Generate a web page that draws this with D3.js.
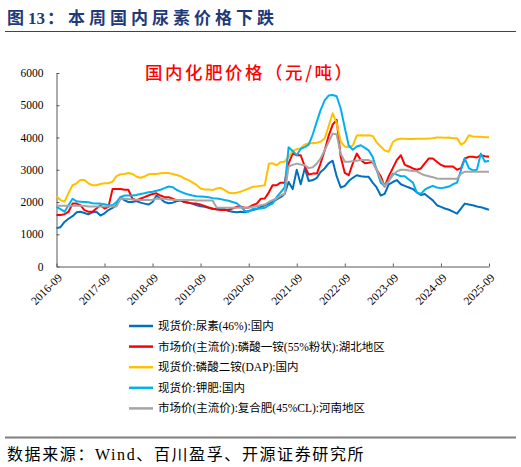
<!DOCTYPE html>
<html>
<head>
<meta charset="utf-8">
<script src="https://cdn.jsdelivr.net/npm/d3@7"></script>
<style>
  body { margin: 0; background: #fff; }
  svg { display: block; }
</style>
</head>
<body>
<div id="chart"></div>
<script>
// month-by-month readings, 2016-09 .. 2025-09 (109 points)
let start_month = "2016-09";
let tick_labels = ["2016-09", "2017-09", "2018-09", "2019-09", "2020-09",
  "2021-09", "2022-09", "2023-09", "2024-09", "2025-09"];
let y_ticks = [0, 1000, 2000, 3000, 4000, 5000, 6000];

let series_names = [
  "现货价:尿素(46%):国内",
  "市场价(主流价):磷酸一铵(55%粉状):湖北地区",
  "现货价:磷酸二铵(DAP):国内",
  "现货价:钾肥:国内",
  "市场价(主流价):复合肥(45%CL):河南地区"
];
let series_colors = ["#0070C0", "#FF0000", "#FFC000", "#00B0F0", "#A5A5A5"];

let urea = [1190, 1220, 1380, 1480,
  1560, 1680, 1700, 1660, 1620, 1680, 1700, 1580, 1650, 1750, 1820, 1900,
  2150, 2050, 2000, 2000, 2030, 1980, 1950, 1920, 2000, 2200, 2100, 2000,
  1960, 1980, 2020, 2060, 2000, 1980, 1950, 1900, 1870, 1850, 1820, 1780,
  1780, 1800, 1780, 1720, 1700, 1680, 1700, 1680, 1720, 1750, 1780, 1850,
  1900, 1950, 2000, 2080, 2150, 2250, 2620, 2400, 3000, 2550, 3050, 2650,
  2680, 2750, 2930, 3040, 3200, 3280, 2800, 2450, 2500, 2650, 2750, 2830,
  2800, 2780, 2780, 2600, 2450, 2200, 2250, 2550, 2620, 2680, 2550, 2500,
  2450, 2400, 2300, 2220, 2250, 2150, 2050, 1900, 1850, 1800, 1760, 1700,
  1640, 1800, 1950, 1920, 1900, 1860, 1840, 1800, 1760];

let map_hubei = [1600, 1600, 1620, 1700,
  1950, 1950, 1900, 1750, 1700, 1700, 1800, 1900, 1800, 1850, 2400, 2400,
  2400, 2380, 2380, 2100, 2050, 2100, 2150, 2200, 2250, 2270, 2200, 2150,
  2150, 2100, 2050, 2050, 2000, 1980, 1950, 1950, 1920, 1880, 1830, 1800,
  1770, 1750, 1750, 1760, 1800, 1850, 1850, 1820, 1830, 1900, 1950, 2100,
  2110, 2300, 2520, 2520, 2600, 2600, 3200, 3500, 3450, 3450, 3100, 2850,
  2880, 2880, 3200, 3600, 4050, 4400, 4550, 3400, 2900, 2830, 3200, 3500,
  3300, 3200, 3220, 3250, 3000, 2800, 2480, 2800, 3050, 3300, 3450, 3150,
  3100, 3040, 3000, 3040, 3200, 3350, 3350, 3250, 3150, 3100, 3100, 3100,
  3000, 3050, 3350, 3400, 3400, 3380, 3450, 3420, 3400];

let dap = [2180, 2060, 2010, 2270,
  2520, 2580, 2680, 2680, 2580, 2520, 2520, 2560, 2580, 2580, 2630, 2800,
  2860, 2870, 2900, 2870, 2790, 2750, 2790, 2860, 2870, 2870, 2890, 2900,
  2900, 2870, 2840, 2800, 2730, 2680, 2610, 2530, 2420, 2390, 2390, 2370,
  2420, 2440, 2370, 2290, 2270, 2290, 2320, 2370, 2420, 2470, 2480, 2500,
  2520, 3190, 3200, 3140, 3240, 3250, 3400, 3580, 3640, 3660, 3780, 3820,
  3820, 3840, 3870, 3970, 4350, 4750, 4450, 3870, 3720, 3700, 3750, 4060,
  4070, 4060, 4070, 4050, 3850, 3720, 3600, 3560, 3860, 3940, 3960, 3960,
  3950, 3950, 3960, 3960, 3960, 3970, 3980, 4000, 4000, 3990, 4000, 3980,
  3980, 3780, 3850, 4070, 4030, 4020, 4020, 4010, 4010];

let potash = [1850, 1780, 1700, 1900,
  2100, 2020, 2010, 2000, 1990, 1960, 1950, 1950, 1930, 1900, 1900, 2000,
  2160, 2200, 2200, 2200, 2220, 2250, 2270, 2300, 2320, 2350, 2380, 2430,
  2480, 2460, 2380, 2320, 2270, 2230, 2200, 2180, 2170, 2160, 2150, 2120,
  2110, 2090, 2060, 2040, 2000, 1960, 1860, 1730, 1700, 1780, 1800, 1800,
  1820, 1900, 1950, 2150, 2300, 2450, 3700, 3580, 3450, 3650, 3700, 3780,
  4100, 4500, 4850, 5150, 5300, 5320, 5280, 4900, 4300, 3750, 3620, 3720,
  3760, 3680, 3600, 3400, 3000, 2600, 2500, 2650, 2880, 2850, 2800, 2800,
  2700, 2600, 2300, 2250, 2380, 2450, 2500, 2450, 2430, 2450, 2480, 2550,
  2600, 3000, 3350, 3050, 2980, 3000, 3500, 3250, 3280];

let npk_henan = [1880, 1880, 1880, 1880,
  1880, 1880, 1880, 1880, 1860, 1860, 1860, 1860, 1860, 1860, 1860, 1860,
  2100, 2100, 2090, 2080, 2070, 2060, 2060, 2060, 2070, 2100, 2110, 2100,
  2080, 2070, 2060, 2060, 2060, 2060, 2060, 2050, 2050, 2050, 2050, 2050,
  1830, 1820, 1820, 1820, 1820, 1820, 1820, 1820, 1820, 1850, 1870, 1900,
  1920, 2000, 2060, 2110, 2200, 2250, 3100, 3150, 3190, 3160, 3140, 3050,
  3080, 3190, 3350, 3600, 3860, 4120, 4100, 3500, 3250, 3250, 3260, 3280,
  3300, 3300, 3300, 3250, 3000, 2700, 2500, 2650, 2830, 2950, 3000, 3000,
  2980, 2960, 2950, 2880, 2830, 2800, 2770, 2730, 2720, 2720, 2720, 2720,
  2720, 2880, 2940, 2940, 2940, 2940, 2940, 2940, 2940];

let all_series = [urea, map_hubei, dap, potash, npk_henan];

let width = 521;
let height = 467;
let svg;

function init() {
  svg = d3
    .select("#chart")
    .append("svg")
    .attr("width", width)
    .attr("height", height);
  draw();
}

function draw() {
  let parse = d3.timeParse("%Y-%m");
  let t0 = parse(start_month);
  let dates = urea.map((d, i) => d3.timeMonth.offset(t0, i));

  let x = d3.scaleTime()
    .domain([t0, parse(tick_labels[tick_labels.length - 1])])
    .range([56.5, 489]);
  let y = d3.scaleLinear().domain([0, 6000]).range([266.5, 73]);

  // header
  let head = svg.append("text")
    .attr("x", 7)
    .attr("y", 24)
    .style("font-family", "'Liberation Serif', 'Noto Sans CJK SC'")
    .style("font-size", "17px")
    .style("font-weight", "bold")
    .style("fill", "#1F3A7A")
    .style("letter-spacing", "4px");
  head.append("tspan").text("图");
  head.append("tspan").style("letter-spacing", "0px").attr("dx", 0).text("13");
  head.append("tspan").attr("dx", 2).text("：本周国内尿素价格下跌");

  svg.append("line")
    .attr("x1", 5).attr("x2", 516)
    .attr("y1", 31.5).attr("y2", 31.5)
    .style("stroke", "#444")
    .style("stroke-width", 1.2);

  // chart title
  svg.append("text")
    .attr("x", 145)
    .attr("y", 79)
    .attr("textLength", 207)
    .attr("lengthAdjust", "spacing")
    .style("font-family", "'Noto Sans CJK SC'")
    .style("font-size", "17.5px")
    .style("font-weight", "500")
    .style("fill", "#FF0000")
    .text("国内化肥价格（元/吨）");

  // y axis
  let yAxis = d3.axisLeft(y)
    .tickValues(y_ticks)
    .tickFormat(d3.format("d"))
    .tickSizeInner(-3)
    .tickSizeOuter(0)
    .tickPadding(13);
  let gy = svg.append("g").attr("transform", "translate(56.5,0)").call(yAxis);
  gy.selectAll("text")
    .style("font-family", "'Liberation Serif'")
    .style("font-size", "11.5px")
    .style("fill", "#000");
  gy.selectAll("line, path").style("stroke", "#595959");

  // x axis
  let xAxis = d3.axisBottom(x)
    .tickValues(tick_labels.map(parse))
    .tickFormat(d3.timeFormat("%Y-%m"))
    .tickSizeInner(-3)
    .tickSizeOuter(0);
  let gx = svg.append("g").attr("transform", "translate(0,266.5)").call(xAxis);
  gx.selectAll("text")
    .style("font-family", "'Liberation Serif'")
    .style("font-size", "11.5px")
    .style("fill", "#000")
    .attr("text-anchor", "end")
    .attr("x", 0)
    .attr("y", 0)
    .attr("dy", "0.35em")
    .attr("transform", "translate(3,9) rotate(-45)");
  gx.selectAll("line, path").style("stroke", "#595959");

  // lines
  let line = d3.line()
    .x((d, i) => x(dates[i]))
    .y(d => y(d));

  svg.selectAll(".series")
    .data(all_series)
    .enter()
    .append("path")
    .attr("class", "series")
    .attr("d", d => line(d))
    .style("fill", "none")
    .style("stroke", (d, i) => series_colors[i])
    .style("stroke-width", 2)
    .style("stroke-linejoin", "round");

  // legend
  let legend = svg.selectAll(".legend")
    .data(series_names)
    .enter()
    .append("g")
    .attr("class", "legend")
    .attr("transform", (d, i) => "translate(129," + (326 + i * 20.6) + ")");
  legend.append("line")
    .attr("x1", 0).attr("x2", 24)
    .style("stroke", (d, i) => series_colors[i])
    .style("stroke-width", 2.5);
  legend.append("text")
    .attr("x", 29)
    .attr("y", 0)
    .attr("dy", "0.35em")
    .style("font-family", "'Liberation Serif', 'Noto Sans CJK SC'")
    .style("font-size", "11.5px")
    .style("fill", "#000")
    .text(d => d);

  // footer
  svg.append("line")
    .attr("x1", 5).attr("x2", 516)
    .attr("y1", 437.5).attr("y2", 437.5)
    .style("stroke", "#7f7f7f")
    .style("stroke-width", 1.8);

  svg.append("text")
    .attr("x", 7)
    .attr("y", 460)
    .style("font-family", "'Liberation Serif', 'Noto Sans CJK SC'")
    .style("font-size", "16px")
    .style("letter-spacing", "1.6px")
    .style("fill", "#000")
    .text("数据来源：Wind、百川盈孚、开源证券研究所");
}

init();
</script>
</body>
</html>
